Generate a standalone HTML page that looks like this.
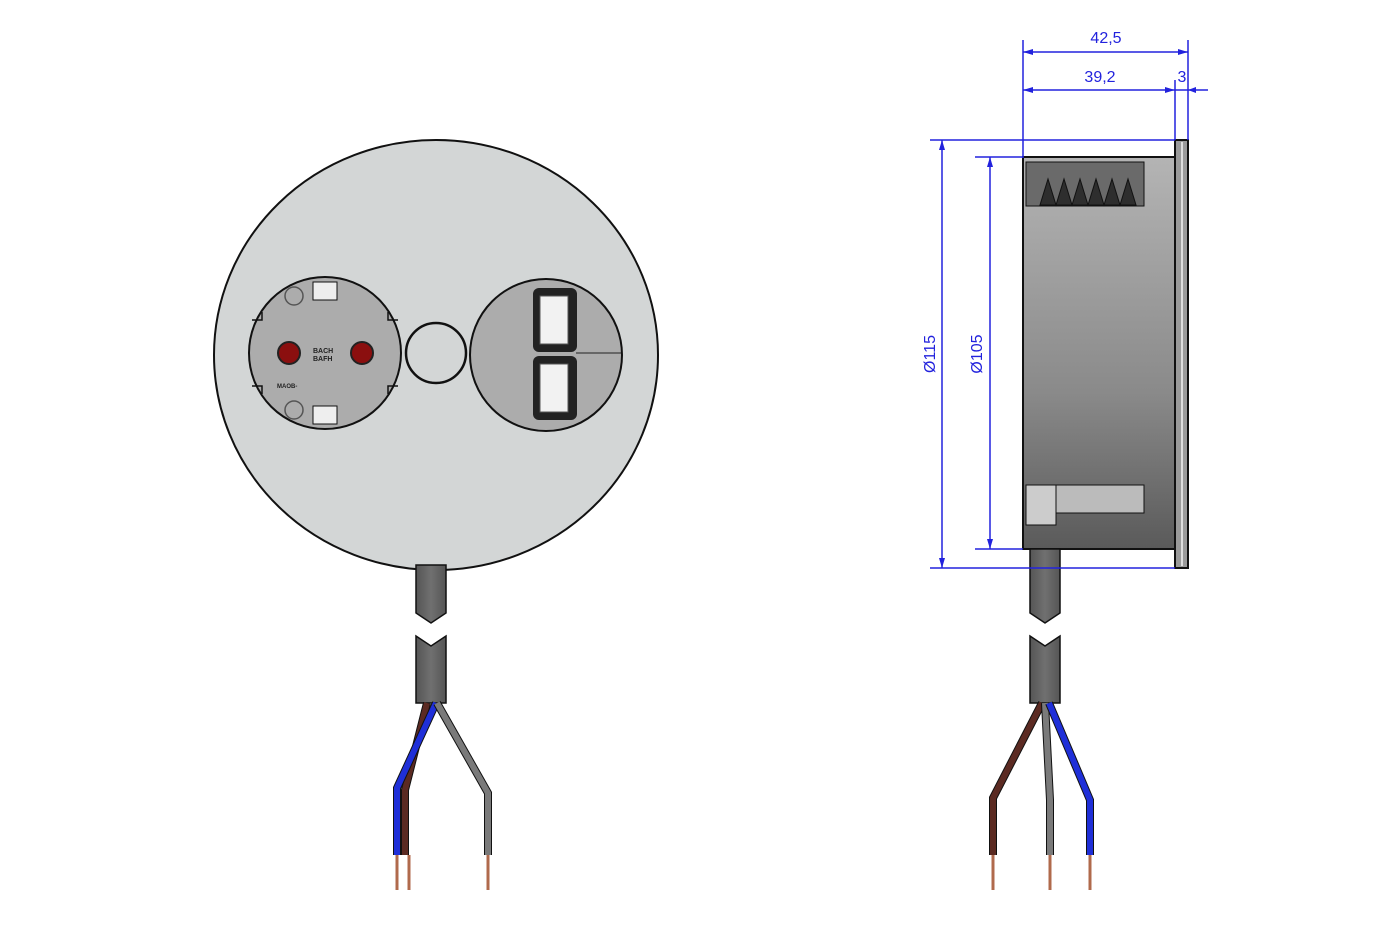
<!DOCTYPE html>
<html><head><style>body{margin:0;background:#fff}svg{display:block}</style></head><body>
<svg width="1400" height="933" viewBox="0 0 1400 933" font-family="Liberation Sans, sans-serif">
<defs>
<linearGradient id="bd" x1="0" y1="0" x2="0" y2="1"><stop offset="0" stop-color="#b4b4b4"/><stop offset="0.6" stop-color="#8a8a8a"/><stop offset="1" stop-color="#5a5a5a"/></linearGradient>
<linearGradient id="cb" x1="0" y1="0" x2="1" y2="0"><stop offset="0" stop-color="#555"/><stop offset="0.5" stop-color="#707070"/><stop offset="1" stop-color="#555"/></linearGradient>
</defs>
<!-- front view -->
<ellipse cx="436" cy="355" rx="222" ry="215" fill="#d3d6d6" stroke="#111" stroke-width="2"/>
<circle cx="325" cy="353" r="76" fill="#acacac" stroke="#111" stroke-width="2"/>
<circle cx="294" cy="296" r="9" fill="none" stroke="#555" stroke-width="1.5"/>
<circle cx="294" cy="410" r="9" fill="none" stroke="#555" stroke-width="1.5"/>
<rect x="313" y="282" width="24" height="18" fill="#eee" stroke="#111"/>
<rect x="313" y="406" width="24" height="18" fill="#eee" stroke="#111"/>
<path d="M252 320h10v-8M252 386h10v8M398 320h-10v-8M398 386h-10v8" fill="none" stroke="#111" stroke-width="1.5"/>
<circle cx="289" cy="353" r="11" fill="#8b0f0f" stroke="#222" stroke-width="2"/>
<circle cx="362" cy="353" r="11" fill="#8b0f0f" stroke="#222" stroke-width="2"/>
<text x="313" y="353" font-size="7" font-weight="bold" fill="#222">BACH</text>
<text x="313" y="361" font-size="7" font-weight="bold" fill="#222">BAFH</text>
<text x="277" y="388" font-size="6" font-weight="bold" fill="#222">MAOB-</text>
<circle cx="436" cy="353" r="30" fill="#d3d6d6" stroke="#111" stroke-width="2.5"/>
<circle cx="546" cy="355" r="76" fill="#acacac" stroke="#111" stroke-width="2"/>
<line x1="576" y1="353" x2="621" y2="353" stroke="#222"/>
<rect x="533" y="288" width="44" height="64" rx="6" fill="#222"/>
<rect x="533" y="356" width="44" height="64" rx="6" fill="#222"/>
<rect x="540" y="296" width="28" height="48" fill="#f2f2f2" stroke="#555"/>
<rect x="540" y="364" width="28" height="48" fill="#f2f2f2" stroke="#555"/>
<!-- cable front -->
<path d="M416 565h30v48l-15 10l-15-10z" fill="url(#cb)" stroke="#111" stroke-width="1.5"/>
<path d="M416 636l15 10l15-10v67h-30z" fill="url(#cb)" stroke="#111" stroke-width="1.5"/>
<path d="M427 703L405 790v65" fill="none" stroke="#111" stroke-width="8"/>
<path d="M427 703L405 790v65" fill="none" stroke="#5b2a22" stroke-width="6"/>
<path d="M436 703L397 788v67" fill="none" stroke="#111" stroke-width="8"/>
<path d="M436 703L397 788v67" fill="none" stroke="#1f2fd8" stroke-width="6"/>
<path d="M437 703L488 793v62" fill="none" stroke="#111" stroke-width="8"/>
<path d="M437 703L488 793v62" fill="none" stroke="#7a7a7a" stroke-width="6"/>
<path d="M397 855v35M409 855v35M488 855v35" stroke="#b06a4c" stroke-width="3"/>
<!-- side view -->
<rect x="1023" y="157" width="152" height="392" fill="url(#bd)" stroke="#111" stroke-width="2"/>
<rect x="1175" y="140" width="13" height="428" fill="#9a9a9a" stroke="#111" stroke-width="2"/>
<line x1="1182" y1="142" x2="1182" y2="566" stroke="#ddd" stroke-width="2"/>
<rect x="1026" y="162" width="118" height="44" fill="#6a6a6a" stroke="#111"/>
<path d="M1040 205l8-26l8 26l8-26l8 26l8-26l8 26l8-26l8 26l8-26l8 26l8-26l8 26z" fill="#2e2e2e" stroke="#111"/>
<rect x="1026" y="485" width="118" height="28" fill="#bbb" stroke="#111"/>
<rect x="1026" y="485" width="30" height="40" fill="#ccc" stroke="#111"/>
<path d="M1030 549h30v64l-15 10l-15-10z" fill="url(#cb)" stroke="#111" stroke-width="1.5"/>
<path d="M1030 636l15 10l15-10v67h-30z" fill="url(#cb)" stroke="#111" stroke-width="1.5"/>
<path d="M1042 703L993 798v57" fill="none" stroke="#111" stroke-width="8"/>
<path d="M1042 703L993 798v57" fill="none" stroke="#5b2a22" stroke-width="6"/>
<path d="M1045 703L1050 800v55" fill="none" stroke="#111" stroke-width="8"/>
<path d="M1045 703L1050 800v55" fill="none" stroke="#7a7a7a" stroke-width="6"/>
<path d="M1049 703L1090 800v55" fill="none" stroke="#111" stroke-width="8"/>
<path d="M1049 703L1090 800v55" fill="none" stroke="#1f2fd8" stroke-width="6"/>
<path d="M993 855v35M1050 855v35M1090 855v35" stroke="#b06a4c" stroke-width="3"/>
<!-- dimensions -->
<g stroke="#2222dd" stroke-width="1.5" fill="none">
<path d="M1023 40v118M1188 40v100M1175 80v60"/>
<path d="M1023 52h165M1023 90h152M1175 90h33"/>
<path d="M930 140h245M930 568h245M975 157h48M975 549h48"/>
<path d="M942 140v428M990 157v392"/>
</g>
<g fill="#2222dd">
<path d="M1023 52l10-3v6zM1188 52l-10-3v6zM1023 90l10-3v6zM1175 90l-10-3v6zM1188 90l8-3v6z"/>
<path d="M942 140l-3 10h6zM942 568l-3-10h6zM990 157l-3 10h6zM990 549l-3-10h6z"/>
</g>
<g fill="#2222dd" font-size="16">
<text x="1106" y="43" text-anchor="middle">42,5</text>
<text x="1100" y="82" text-anchor="middle">39,2</text>
<text x="1182" y="82" text-anchor="middle">3</text>
<text transform="translate(935,354) rotate(-90)" text-anchor="middle">Ø115</text>
<text transform="translate(982,354) rotate(-90)" text-anchor="middle">Ø105</text>
</g>
</svg>
</body></html>
